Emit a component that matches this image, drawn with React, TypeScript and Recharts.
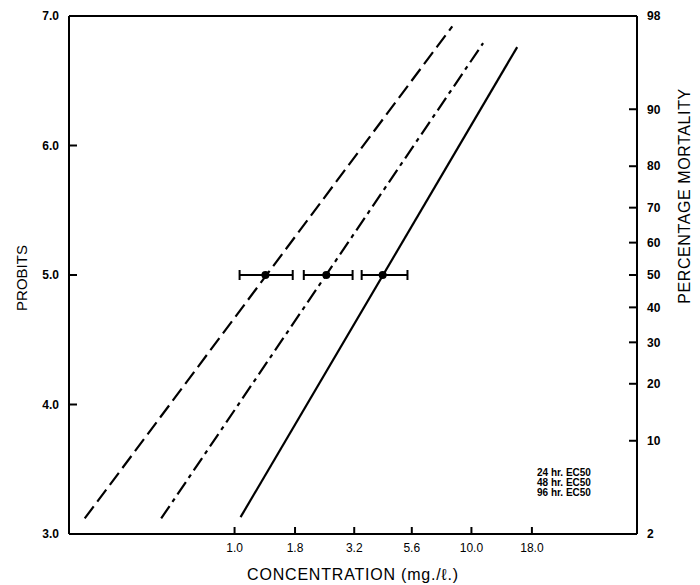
import {
	ComposedChart,
	Line,
	Scatter,
	ErrorBar,
	XAxis,
	YAxis,
	Legend,
} from "recharts"

const seriesNames = ["24 hr. EC50", "48 hr. EC50", "96 hr. EC50"]
const dashes = ["15 6", "15 5 4 5", undefined]

// regression lines, end points (concentration mg/l, probit)
const line24 = [
	{ conc: 0.233, probit: 3.12 },
	{ conc: 8.3, probit: 6.92 },
]
const line48 = [
	{ conc: 0.49, probit: 3.12 },
	{ conc: 11.2, probit: 6.79 },
]
const line96 = [
	{ conc: 1.06, probit: 3.13 },
	{ conc: 15.6, probit: 6.76 },
]
const lines = [line24, line48, line96]

// EC50 with confidence limits
const ec50 = [1.35, 2.44, 4.22]
const ciLow = [1.05, 1.96, 3.44]
const ciHigh = [1.76, 3.15, 5.37]

const concTicks = [1.0, 1.8, 3.2, 5.6, 10.0, 18.0]
const probitTicks = [3, 4, 5, 6, 7]
const mortalityLabels = ["2", "10", "20", "30", "40", "50", "60", "70", "80", "90", "98"]
const mortalityProbits = [3.0, 3.72, 4.16, 4.48, 4.75, 5.0, 5.25, 5.52, 5.84, 6.28, 7.0]

const ecPoints = ec50.map((c, i) => ({
	conc: c,
	probit: 5,
	err: [c - ciLow[i], ciHigh[i] - c],
}))

const tickStyle = { fill: "#000", fontSize: 12, fontWeight: "bold" as const }

const LegendText = ({ payload }: any) => (
	<div style={{ fontSize: 10, fontWeight: "bold", lineHeight: "10px", color: "#000" }}>
		{(payload || [])
			.filter((p: any) => p.type !== "none")
			.map((p: any) => (
				<div key={p.value}>{p.value}</div>
			))}
	</div>
)

const App = () => (
	<div style={{ position: "absolute", left: 0, top: 0, width: 700, height: 585, fontFamily: "'Liberation Sans', Arial, sans-serif" }}>
		<ComposedChart width={700} height={585} margin={{ top: 0, right: 0, bottom: 0, left: 0 }}>
			<XAxis
				dataKey="conc"
				type="number"
				scale="log"
				domain={[0.2, 50]}
				allowDataOverflow
				ticks={concTicks}
				interval={0}
				tickFormatter={(v: number) => v.toFixed(1)}
				height={51}
				stroke="#000"
				strokeWidth={2}
				tickSize={-7}
				tickMargin={16}
				tick={{ ...tickStyle, fontWeight: "normal" }}
				label={() => (
					<text x={353} y={580} textAnchor="middle" fontSize={16} letterSpacing={0.8} fill="#000">
						CONCENTRATION (mg./ℓ.)
					</text>
				)}
			/>
			<XAxis
				xAxisId="top"
				orientation="top"
				dataKey="conc"
				type="number"
				scale="log"
				domain={[0.2, 50]}
				allowDataOverflow
				ticks={concTicks}
				interval={0}
				height={16}
				stroke="#000"
				strokeWidth={2}
				tickSize={-7}
				tick={false}
			/>
			<YAxis
				dataKey="probit"
				type="number"
				domain={[3, 7]}
				allowDataOverflow
				ticks={probitTicks}
				interval={0}
				tickFormatter={(v: number) => v.toFixed(1)}
				width={69}
				stroke="#000"
				strokeWidth={2}
				tickSize={-8}
				tickMargin={18}
				tick={tickStyle}
				label={() => (
					<text x={27} y={278} transform="rotate(-90 27 278)" textAnchor="middle" fontSize={15} fill="#000">
						PROBITS
					</text>
				)}
			/>
			<YAxis
				yAxisId="right"
				orientation="right"
				type="number"
				domain={[3, 7]}
				allowDataOverflow
				ticks={mortalityProbits}
				interval={0}
				tickFormatter={(v: number) => mortalityLabels[mortalityProbits.indexOf(v)]}
				width={63}
				stroke="#000"
				strokeWidth={2}
				tickSize={-8}
				tickMargin={18}
				tick={tickStyle}
				label={() => (
					<text x={690} y={196} transform="rotate(-90 690 196)" textAnchor="middle" fontSize={16} letterSpacing={0.6} fill="#000">
						PERCENTAGE  MORTALITY
					</text>
				)}
			/>
			{lines.map((d, i) => (
				<Line
					key={seriesNames[i]}
					data={d}
					dataKey="probit"
					name={seriesNames[i]}
					type="linear"
					stroke="#000"
					strokeWidth={2.2}
					strokeDasharray={dashes[i]}
					dot={false}
					activeDot={false}
					isAnimationActive={false}
				/>
			))}
			<Scatter
				data={ecPoints}
				dataKey="probit"
				legendType="none"
				isAnimationActive={false}
				shape={(p: any) => <circle cx={p.cx} cy={p.cy} r={4} fill="#000" />}
			>
				<ErrorBar dataKey="err" direction="x" width={5} stroke="#000" strokeWidth={2} isAnimationActive={false} />
			</Scatter>
			<Legend
				layout="vertical"
				align="center"
				verticalAlign="middle"
				wrapperStyle={{ left: 537, top: 468, width: 80 }}
				content={<LegendText />}
			/>
		</ComposedChart>
	</div>
)

export default App
